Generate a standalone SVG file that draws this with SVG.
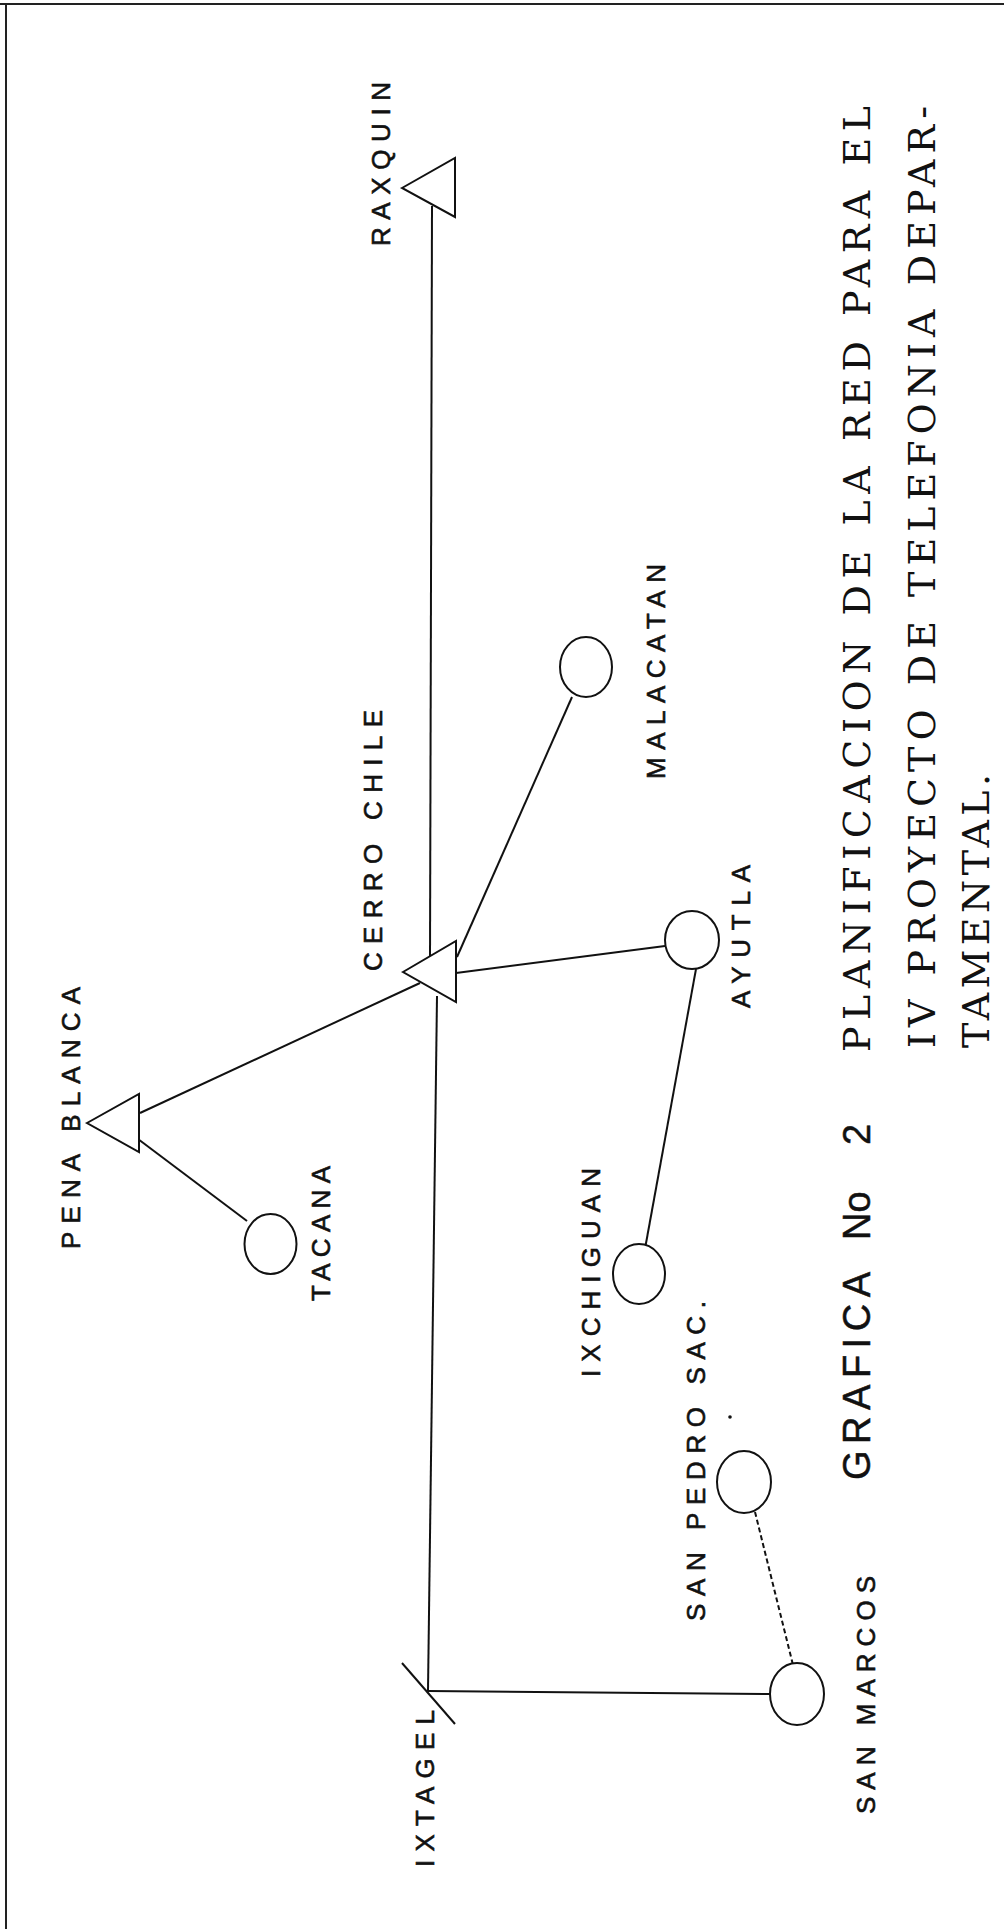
<svg xmlns="http://www.w3.org/2000/svg" width="1004" height="1929" viewBox="0 0 1004 1929">
<style>
.sh{fill:#fff;stroke:#111;stroke-width:2}
.ln{fill:none;stroke:#111;stroke-width:2}
.dash{fill:none;stroke:#111;stroke-width:2;stroke-dasharray:5 3}
.lbl{font-family:"Liberation Sans",Arial,sans-serif;font-size:26px;fill:#111;stroke:#111;stroke-width:0.6}
.ttl{font-family:"DejaVu Serif","Liberation Serif",serif;font-size:38px;fill:#111}
.ttls{font-family:"Liberation Sans",Arial,sans-serif;font-size:38px;fill:#111;stroke:#111;stroke-width:0.5}
</style>
<rect x="0" y="0" width="1004" height="1929" fill="#fff"/>
<g id="frame">
<line x1="0" y1="4" x2="1004" y2="4" stroke="#222" stroke-width="2"/>
<line x1="6" y1="4" x2="6" y2="1929" stroke="#222" stroke-width="2"/>
</g>
<g id="connectors">
<line class="ln" x1="432" y1="206" x2="430" y2="957"/>
<line class="ln" x1="437" y1="996" x2="428" y2="1691"/>
<line class="ln" x1="140" y1="1113" x2="420" y2="983"/>
<line class="ln" x1="138" y1="1139" x2="247" y2="1221"/>
<line class="ln" x1="457" y1="957" x2="572" y2="697"/>
<line class="ln" x1="456" y1="973" x2="665" y2="946"/>
<line class="ln" x1="696" y1="969" x2="645.5" y2="1246"/>
<line class="dash" x1="755" y1="1512" x2="793" y2="1665"/>
<line class="ln" x1="428" y1="1691" x2="770" y2="1694"/>
</g>
<g id="raxquin">
<polygon class="sh" points="402,188 455,158 455,217"/>
<text class="lbl" transform="translate(390,246) rotate(-90)" textLength="164" lengthAdjust="spacing">RAXQUIN</text>
</g>
<g id="cerro-chile">
<polygon class="sh" points="403,972 456,941 456,1002"/>
<text class="lbl" transform="translate(382,971) rotate(-90)" textLength="261" lengthAdjust="spacing">CERRO CHILE</text>
</g>
<g id="pena-blanca">
<polygon class="sh" points="87,1123 139,1094 139,1152"/>
<text class="lbl" transform="translate(80,1249) rotate(-90)" textLength="262" lengthAdjust="spacing">PENA BLANCA</text>
</g>
<g id="tacana">
<ellipse class="sh" cx="270.5" cy="1244" rx="26" ry="30"/>
<text class="lbl" transform="translate(330,1301) rotate(-90)" textLength="135" lengthAdjust="spacing">TACANA</text>
</g>
<g id="malacatan">
<ellipse class="sh" cx="586" cy="667" rx="26" ry="30"/>
<text class="lbl" transform="translate(665,779) rotate(-90)" textLength="215" lengthAdjust="spacing">MALACATAN</text>
</g>
<g id="ayutla">
<ellipse class="sh" cx="692" cy="940" rx="27" ry="29"/>
<text class="lbl" transform="translate(750,1008) rotate(-90)" textLength="143" lengthAdjust="spacing">AYUTLA</text>
</g>
<g id="ixchiguan">
<ellipse class="sh" cx="639" cy="1274" rx="26" ry="30"/>
<text class="lbl" transform="translate(600,1377) rotate(-90)" textLength="209" lengthAdjust="spacing">IXCHIGUAN</text>
</g>
<g id="san-pedro-sac">
<ellipse class="sh" cx="744" cy="1482" rx="27" ry="31"/>
<text class="lbl" transform="translate(705,1621) rotate(-90)" textLength="320" lengthAdjust="spacing">SAN PEDRO SAC.</text>
<circle cx="730" cy="1417" r="1.8" fill="#111"/>
</g>
<g id="san-marcos">
<ellipse class="sh" cx="797" cy="1694" rx="27" ry="31"/>
<text class="lbl" transform="translate(875,1814) rotate(-90)" textLength="238" lengthAdjust="spacing">SAN MARCOS</text>
</g>
<g id="ixtagel">
<line class="ln" x1="402" y1="1663" x2="455" y2="1724"/>
<text class="lbl" transform="translate(434,1867) rotate(-90)" textLength="157" lengthAdjust="spacing">IXTAGEL</text>
</g>
<g id="title">
<text class="ttls" transform="translate(870,1480) rotate(-90)"><tspan textLength="208" lengthAdjust="spacing">GRAFICA</tspan></text>
<text class="ttls" transform="translate(870,1240) rotate(-90)">No</text>
<text class="ttls" transform="translate(870,1145) rotate(-90)">2</text>
<text class="ttl" transform="translate(870,1052) rotate(-90)" textLength="946" lengthAdjust="spacing">PLANIFICACION DE LA RED PARA EL</text>
<text class="ttl" transform="translate(935,1048) rotate(-90)" textLength="942" lengthAdjust="spacing">IV PROYECTO DE TELEFONIA DEPAR-</text>
<text class="ttl" transform="translate(989,1048) rotate(-90)" textLength="274" lengthAdjust="spacing">TAMENTAL.</text>
</g>
</svg>
